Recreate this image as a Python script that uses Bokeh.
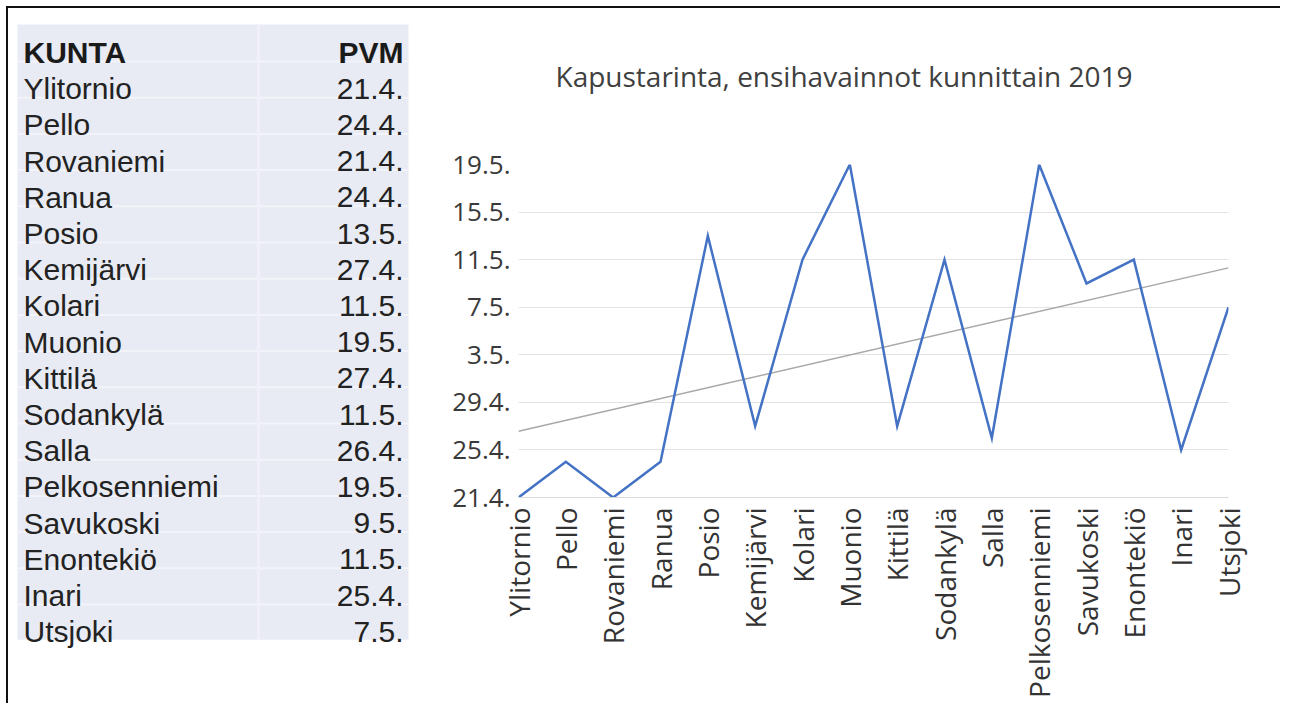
import math
from datetime import date
import numpy as np
from bokeh.plotting import figure
from bokeh.layouts import row, column
from bokeh.models import ColumnDataSource, Range1d, FixedTicker, Title, Div, Spacer
from bokeh.core.properties import value
from bokeh.embed import file_html
from bokeh.resources import INLINE

# ---------------- data ----------------
kunta = ["Ylitornio", "Pello", "Rovaniemi", "Ranua", "Posio", "Kemijärvi", "Kolari",
         "Muonio", "Kittilä", "Sodankylä", "Salla", "Pelkosenniemi", "Savukoski",
         "Enontekiö", "Inari", "Utsjoki"]
pvm = ["21.4.", "24.4.", "21.4.", "24.4.", "13.5.", "27.4.", "11.5.", "19.5.",
       "27.4.", "11.5.", "26.4.", "19.5.", "9.5.", "11.5.", "25.4.", "7.5."]
y_tick_labels = ["21.4.", "25.4.", "29.4.", "3.5.", "7.5.", "11.5.", "15.5.", "19.5."]
header = ["KUNTA", "PVM"]
title_text = "Kapustarinta, ensihavainnot kunnittain 2019"


def to_day(s):
    d, m = s.strip(".").split(".")
    return (date(2019, int(m), int(d)) - date(2019, 4, 1)).days


days = [to_day(s) for s in pvm]
tick_days = [to_day(s) for s in y_tick_labels]
xs = list(range(len(kunta)))

# ---------------- layout constants (page pixels) ----------------
MARGIN = 6
BORDER = 2
X0 = MARGIN + BORDER          # page x where the figures start
Y0 = MARGIN + BORDER          # page y where the figures start
RIGHT_EDGE = 1280
FIG_H = 695
SPLIT = 425
TABLE_W = SPLIT - X0
CHART_W = RIGHT_EDGE - SPLIT

TEXT_FONT = "Liberation Sans"
CHART_FONT = "Open Sans"

# ---------------- table figure ----------------
tf = figure(width=TABLE_W, height=FIG_H, output_backend="svg", toolbar_location=None,
            x_range=Range1d(X0, X0 + TABLE_W), y_range=Range1d(Y0 + FIG_H, Y0),
            min_border=0, outline_line_color=None, frame_align=False)
tf.axis.visible = False
tf.grid.visible = False

ROW0 = 52.0
PITCH = 36.2
n = len(kunta)
tab_left, tab_right = 17, 408
tab_top, tab_bottom = 24, ROW0 + n * PITCH + 8

tf.quad(left=[tab_left], right=[tab_right], top=[tab_top], bottom=[tab_bottom],
        fill_color="#e8ebf3", line_color=None)
sep_y = [ROW0 + 9 + i * PITCH for i in range(n)]
tf.segment(x0=[tab_left] * n, x1=[tab_right] * n, y0=sep_y, y1=sep_y,
           line_color="#f3f4f9", line_width=2)
tf.segment(x0=[258], x1=[258], y0=[tab_top], y1=[tab_bottom],
           line_color="#f1eff9", line_width=3)

row_y = [ROW0 + (i + 1) * PITCH for i in range(n)]
src_rows = ColumnDataSource(dict(name=kunta, date=pvm, y=row_y,
                                 xl=[23] * n, xr=[403] * n))
tf.text(x="xl", y="y", text="name", source=src_rows, text_font=value(TEXT_FONT),
        text_font_size="30px", text_color="#222222", text_baseline="alphabetic",
        text_align="left")
tf.text(x="xr", y="y", text="date", source=src_rows, text_font=value(TEXT_FONT),
        text_font_size="30px", text_color="#222222", text_baseline="alphabetic",
        text_align="right")
src_head = ColumnDataSource(dict(t=header, x=[23, 403], y=[ROW0, ROW0],
                                 a=["left", "right"]))
tf.text(x="x", y="y", text="t", source=src_head, text_font=value(TEXT_FONT),
        text_font_size="30px", text_font_style="bold", text_color="#1a1a1a",
        text_baseline="alphabetic", text_align="a")

# ---------------- chart figure ----------------
FRAME_L, FRAME_R, FRAME_T, FRAME_B = 518, 1228, 164, 497
cf = figure(width=CHART_W, height=FIG_H, output_backend="svg", toolbar_location=None,
            x_range=Range1d(0, len(kunta) - 1),
            y_range=Range1d(tick_days[0], tick_days[-1]),
            min_border_left=FRAME_L - SPLIT,
            min_border_right=RIGHT_EDGE - FRAME_R,
            min_border_top=FRAME_T - Y0,
            min_border_bottom=Y0 + FIG_H - FRAME_B,
            outline_line_color=None, background_fill_color="white",
            frame_align=False)
cf.title = None

# spacer between the frame and the title, then the title itself
cf.add_layout(Title(text=" ", text_font_size="10px", standoff=52), "above")
cf.add_layout(Title(text=title_text, text_font=CHART_FONT, text_font_size="28px",
                    text_font_style="normal", text_color="#404040",
                    align="left", offset=37, standoff=10), "above")

# y axis
ya = cf.yaxis[0]
ya.ticker = FixedTicker(ticks=tick_days)
ya.major_label_overrides = {d: lab for d, lab in zip(tick_days, y_tick_labels)}
ya.axis_line_color = None
ya.major_tick_line_color = None
ya.minor_tick_line_color = None
ya.major_label_standoff = 2
ya.major_label_text_font = CHART_FONT
ya.major_label_text_font_size = "26px"
ya.major_label_text_color = "#3a3a3a"

# x axis
xa = cf.xaxis[0]
xa.ticker = FixedTicker(ticks=xs)
xa.major_label_overrides = {i: k for i, k in zip(xs, kunta)}
xa.major_label_orientation = math.pi / 2
xa.axis_line_color = "#d9d9d9"
xa.axis_line_width = 1
xa.major_tick_line_color = None
xa.minor_tick_line_color = None
xa.major_label_standoff = 4
xa.major_label_text_font = CHART_FONT
xa.major_label_text_font_size = "28px"
xa.major_label_text_color = "#333333"

cf.xgrid.grid_line_color = None
cf.ygrid.ticker = FixedTicker(ticks=tick_days)
cf.ygrid.grid_line_color = "#e3e3e3"
cf.ygrid.grid_line_width = 1

# linear trend line (least squares fit of the data)
slope, intercept = np.polyfit(xs, days, 1)
trend_x = [xs[0], xs[-1]]
trend_y = [intercept + slope * xs[0], intercept + slope * xs[-1]]
cf.line(trend_x, trend_y, line_color="#a8a8a8", line_width=1.5)

cf.line(xs, days, line_color="#4472c4", line_width=2.5, line_join="miter")

# frame lines (top and left) as plain blocks, offset by spacers
top_bar = Div(width=RIGHT_EDGE - MARGIN, height=BORDER, margin=0,
              styles={"background-color": "#111111", "overflow": "hidden"})
left_bar = Div(width=BORDER, height=FIG_H, margin=0,
               styles={"background-color": "#111111", "overflow": "hidden"})

inner = column(top_bar, row(left_bar, tf, cf))
layout = column(Spacer(width=RIGHT_EDGE, height=MARGIN),
                row(Spacer(width=MARGIN, height=BORDER + FIG_H), inner))

open("out.html", "w").write(file_html(layout, INLINE))
